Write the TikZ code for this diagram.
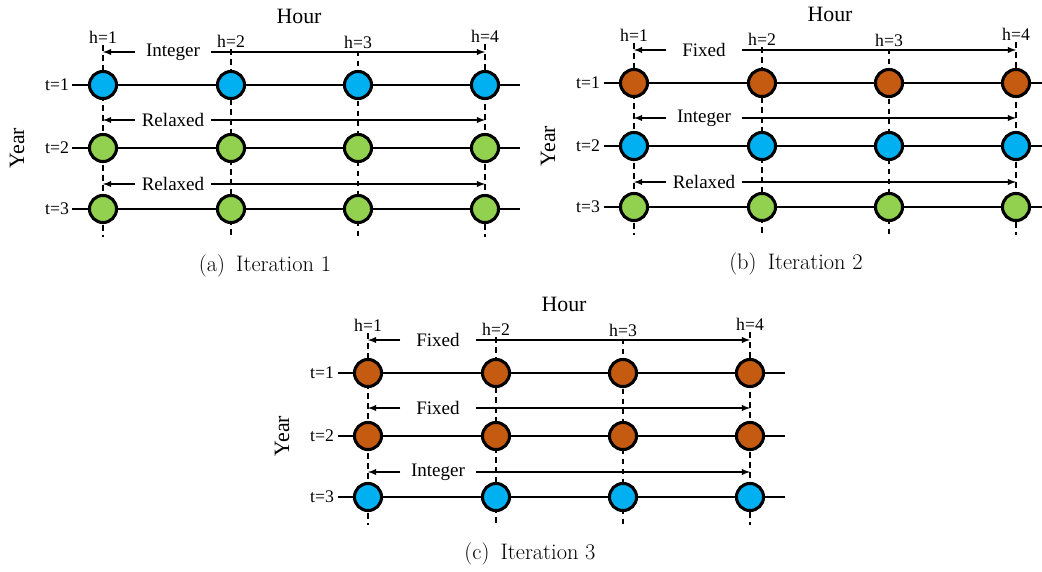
\documentclass[tikz,border=0pt]{standalone}
\usepackage{fontspec}
\newfontfamily\labelfont{Liberation Serif}
\usetikzlibrary{positioning,arrows}

\definecolor{intblue}{RGB}{0,176,240}
\definecolor{relgreen}{RGB}{146,208,80}
\definecolor{fixorange}{RGB}{197,90,17}

\tikzset{
  ball/.style={circle,draw,line width=2.3pt,minimum size=20.3pt,inner sep=0pt},
  hlbl/.style={font=\labelfont\fontsize{13.3}{13.3}\selectfont,inner sep=1.5pt},
  tlbl/.style={font=\labelfont\fontsize{13.3}{13.3}\selectfont,inner sep=2.5pt},
  biglbl/.style={font=\labelfont\fontsize{16.4}{16.4}\selectfont},
  spanlbl/.style={font=\labelfont\fontsize{14.3}{14.3}\selectfont,minimum width=56pt,inner sep=0pt},
  timeline/.style={line width=1.1pt},
  guide/.style={line width=1.3pt,dash pattern=on 4pt off 3.5pt},
  span/.style={-latex,line width=1.1pt},
  capt/.style={font=\fontsize{16.8}{16.8}\selectfont}
}

% #1 shift, #2 panel letter, #3 iteration, #4-#6 row colours, #7-#9 row labels
\newcommand{\iterpanel}[9]{%
\begin{scope}[shift={#1}]
\node[biglbl] (#2hour) at (196,-69) {Hour};
\node[biglbl,rotate=90] (#2year) at (-86,63) {Year};
\node[hlbl] (#2h1) at (0,-48) {h=1};
\node[hlbl] (#2h2) at (128,-44) {h=2};
\node[hlbl] (#2h3) at (255,-43) {h=3};
\node[hlbl] (#2h4) at (382,-49) {h=4};
\foreach \c/\x in {1/0,2/128,3/255,4/382} {
  \coordinate (#2b\c) at (\x,152);
  \draw[guide] (#2h\c.south) -- (#2b\c);
}
\foreach \r/\y/\s/\col/\txt in {1/0/-33/#4/#7,2/63/35/#5/#8,3/124/99/#6/#9} {
  \node[tlbl] (#2t\r) at (-46,\y) {t=\r};
  \coordinate (#2e\r) at (417,\y);
  \draw[timeline] (#2t\r.east) -- (#2e\r);
  \node[spanlbl] (#2s\r) at (70,\s) {\txt};
  \draw[span] (#2s\r.west) -- (#2s\r.west -| #2h1);
  \draw[span] (#2s\r.east) -- (#2s\r.east -| #2h4);
  \foreach \c/\x in {1/0,2/128,3/255,4/382}
    \node[ball,fill=\col] (#2n\r\c) at (\x,\y) {};
}
\node[capt] (#2cap) at (162,181) {(#2)\enspace Iteration #3};
\end{scope}}

\begin{document}
\begin{tikzpicture}[x=0.75pt,y=-0.75pt]
\useasboundingbox (0,0) rectangle (1042,571);
\clip (0,0) rectangle (1042,571);
\iterpanel{(103,85)}{a}{1}{intblue}{relgreen}{relgreen}{Integer}{Relaxed}{Relaxed}
\iterpanel{(634,83)}{b}{2}{fixorange}{intblue}{relgreen}{Fixed}{Integer}{Relaxed}
\iterpanel{(368,373)}{c}{3}{fixorange}{fixorange}{intblue}{Fixed}{Fixed}{Integer}
\end{tikzpicture}
\end{document}
